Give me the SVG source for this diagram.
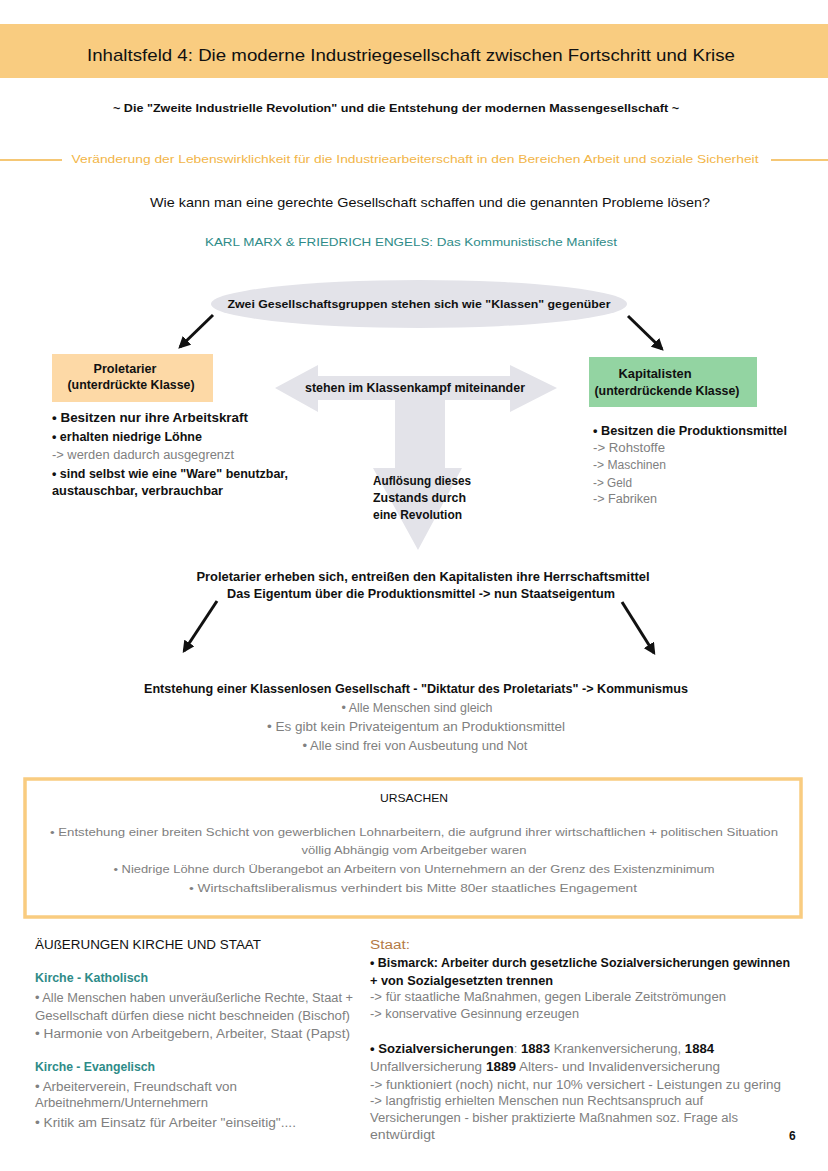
<svg xmlns="http://www.w3.org/2000/svg" width="828" height="1171" viewBox="0 0 828 1171">
<defs>
<marker id="ah" viewBox="0 0 10 10" refX="8" refY="5" markerWidth="4" markerHeight="4" orient="auto" markerUnits="strokeWidth">
<path d="M0,0 L10,5 L0,10 z" fill="#111"/>
</marker>
<style>
text{font-family:"Liberation Sans","DejaVu Sans",sans-serif;fill:#111}
.t{font-size:17px}
.s{font-size:11px;font-weight:bold}
.b{font-size:12px;font-weight:bold}
.g{font-size:12px;fill:#808080}
.gs{font-size:11px;fill:#808080}
.or{font-size:11px;fill:#F2B547}
.teal{font-size:12px;fill:#2E8B88;font-weight:bold}
.c{text-anchor:middle}
.k{fill:#111;font-weight:bold}
.conn{stroke:#111;stroke-width:3;fill:none;marker-end:url(#ah)}
</style>
</defs>
<rect width="828" height="1171" fill="#ffffff"/>

<g id="header">
<rect x="0" y="24" width="828" height="54" fill="#F9CC80"/>
<text class="t c" x="411" y="61" textLength="648" lengthAdjust="spacingAndGlyphs">Inhaltsfeld 4: Die moderne Industriegesellschaft zwischen Fortschritt und Krise</text>
</g>

<g id="subtitle">
<text class="s c" x="396" y="112" textLength="566" lengthAdjust="spacingAndGlyphs">~ Die "Zweite Industrielle Revolution" und die Entstehung der modernen Massengesellschaft ~</text>
</g>

<g id="section-line">
<line x1="0" y1="160" x2="62" y2="160" stroke="#F2B547" stroke-width="1.5"/>
<line x1="771" y1="160" x2="828" y2="160" stroke="#F2B547" stroke-width="1.5"/>
<text class="or c" x="415" y="163" textLength="687" lengthAdjust="spacingAndGlyphs">Veränderung der Lebenswirklichkeit für die Industriearbeiterschaft in den Bereichen Arbeit und soziale Sicherheit</text>
</g>

<g id="question">
<text class="c" x="430" y="207" font-size="13" textLength="560" lengthAdjust="spacingAndGlyphs">Wie kann man eine gerechte Gesellschaft schaffen und die genannten Probleme lösen?</text>
</g>

<g id="manifest">
<text class="c" x="411" y="246" font-size="11" style="fill:#2E8B88" textLength="412" lengthAdjust="spacingAndGlyphs">KARL MARX &amp; FRIEDRICH ENGELS: Das Kommunistische Manifest</text>
</g>

<g id="klassen">
<ellipse cx="419" cy="304" rx="208" ry="24" fill="#E3E3E9"/>
<text class="s c" x="419" y="308" textLength="383" lengthAdjust="spacingAndGlyphs">Zwei Gesellschaftsgruppen stehen sich wie "Klassen" gegenüber</text>
</g>

<g id="proletarier">
<rect x="52" y="354" width="161" height="48" fill="#FDD9A6"/>
<text class="b c" x="125" y="373" textLength="63" lengthAdjust="spacingAndGlyphs">Proletarier</text>
<text class="b c" x="131" y="389" textLength="127" lengthAdjust="spacingAndGlyphs">(unterdrückte Klasse)</text>
</g>

<g id="kapitalisten">
<rect x="589" y="357" width="168" height="50" fill="#93D4A2"/>
<text class="b c" x="655" y="378" textLength="73" lengthAdjust="spacingAndGlyphs">Kapitalisten</text>
<text class="b c" x="667" y="395" textLength="145" lengthAdjust="spacingAndGlyphs">(unterdrückende Klasse)</text>
</g>

<g id="klassenkampf">
<path d="M275,388 L318,365 L318,376 L510,376 L510,365 L557,388 L510,412 L510,400 L445,400 L445,468 L462,468 L418,550 L373,468 L395,468 L395,400 L318,400 L318,412 Z" fill="#E3E3E9"/>
<text class="b c" x="415" y="392" textLength="220" lengthAdjust="spacingAndGlyphs">stehen im Klassenkampf miteinander</text>
<text class="b" x="373" y="485" textLength="98" lengthAdjust="spacingAndGlyphs">Auflösung dieses</text>
<text class="b" x="373" y="502" textLength="93" lengthAdjust="spacingAndGlyphs">Zustands durch</text>
<text class="b" x="373" y="519" textLength="89" lengthAdjust="spacingAndGlyphs">eine Revolution</text>
</g>

<g id="proletarier-list">
<text class="b" x="52" y="422" textLength="196" lengthAdjust="spacingAndGlyphs">• Besitzen nur ihre Arbeitskraft</text>
<text class="b" x="52" y="441" textLength="150" lengthAdjust="spacingAndGlyphs">• erhalten niedrige Löhne</text>
<text class="g" x="52" y="459" textLength="182" lengthAdjust="spacingAndGlyphs">-&gt; werden dadurch ausgegrenzt</text>
<text class="b" x="52" y="478" textLength="236" lengthAdjust="spacingAndGlyphs">• sind selbst wie eine "Ware" benutzbar,</text>
<text class="b" x="52" y="495" textLength="171" lengthAdjust="spacingAndGlyphs">austauschbar, verbrauchbar</text>
</g>

<g id="kapitalisten-list">
<text class="b" x="593" y="435" textLength="194" lengthAdjust="spacingAndGlyphs">• Besitzen die Produktionsmittel</text>
<text class="g" x="593" y="452" textLength="72" lengthAdjust="spacingAndGlyphs">-&gt; Rohstoffe</text>
<text class="g" x="593" y="469" textLength="73" lengthAdjust="spacingAndGlyphs">-&gt; Maschinen</text>
<text class="g" x="593" y="487" textLength="39" lengthAdjust="spacingAndGlyphs">-&gt; Geld</text>
<text class="g" x="593" y="503" textLength="64" lengthAdjust="spacingAndGlyphs">-&gt; Fabriken</text>
</g>

<g id="revolution">
<text class="b c" x="423" y="581" textLength="453" lengthAdjust="spacingAndGlyphs">Proletarier erheben sich, entreißen den Kapitalisten ihre Herrschaftsmittel</text>
<text class="b c" x="421" y="598" textLength="388" lengthAdjust="spacingAndGlyphs">Das Eigentum über die Produktionsmittel -&gt; nun Staatseigentum</text>
</g>

<g id="kommunismus">
<text class="b c" x="416" y="693" textLength="544" lengthAdjust="spacingAndGlyphs">Entstehung einer Klassenlosen Gesellschaft - "Diktatur des Proletariats" -&gt; Kommunismus</text>
<text class="g c" x="417" y="712" textLength="151" lengthAdjust="spacingAndGlyphs">• Alle Menschen sind gleich</text>
<text class="g c" x="416" y="731" textLength="298" lengthAdjust="spacingAndGlyphs">• Es gibt kein Privateigentum an Produktionsmittel</text>
<text class="g c" x="415" y="750" textLength="225" lengthAdjust="spacingAndGlyphs">• Alle sind frei von Ausbeutung und Not</text>
</g>

<g id="connectors">
<line class="conn" x1="213" y1="315" x2="180" y2="347"/>
<line class="conn" x1="628" y1="316" x2="662" y2="349"/>
<line class="conn" x1="217" y1="601" x2="184" y2="651"/>
<line class="conn" x1="622" y1="602" x2="654" y2="653"/>
</g>

<g id="ursachen">
<rect x="25" y="779" width="776" height="138" fill="#ffffff" stroke="#F9CC80" stroke-width="3.5"/>
<text class="c" x="414" y="802" font-size="11" textLength="68" lengthAdjust="spacingAndGlyphs">URSACHEN</text>
<text class="gs c" x="414" y="836" textLength="728" lengthAdjust="spacingAndGlyphs">• Entstehung einer breiten Schicht von gewerblichen Lohnarbeitern, die aufgrund ihrer wirtschaftlichen + politischen Situation</text>
<text class="gs c" x="414" y="854" textLength="225" lengthAdjust="spacingAndGlyphs">völlig Abhängig vom Arbeitgeber waren</text>
<text class="gs c" x="414" y="873" textLength="601" lengthAdjust="spacingAndGlyphs">• Niedrige Löhne durch Überangebot an Arbeitern von Unternehmern an der Grenz des Existenzminimum</text>
<text class="gs c" x="413" y="892" textLength="448" lengthAdjust="spacingAndGlyphs">• Wirtschaftsliberalismus verhindert bis Mitte 80er staatliches Engagement</text>
</g>

<g id="kirche">
<text x="35" y="949" font-size="12" textLength="226" lengthAdjust="spacingAndGlyphs">ÄUßERUNGEN KIRCHE UND STAAT</text>
<text class="teal" x="35" y="982" textLength="113" lengthAdjust="spacingAndGlyphs">Kirche - Katholisch</text>
<text class="g" x="35" y="1002" textLength="318" lengthAdjust="spacingAndGlyphs">• Alle Menschen haben unveräußerliche Rechte, Staat +</text>
<text class="g" x="35" y="1020" textLength="315" lengthAdjust="spacingAndGlyphs">Gesellschaft dürfen diese nicht beschneiden (Bischof)</text>
<text class="g" x="35" y="1038" textLength="315" lengthAdjust="spacingAndGlyphs">• Harmonie von Arbeitgebern, Arbeiter, Staat (Papst)</text>
<text class="teal" x="35" y="1071" textLength="120" lengthAdjust="spacingAndGlyphs">Kirche - Evangelisch</text>
<text class="g" x="35" y="1091" textLength="202" lengthAdjust="spacingAndGlyphs">• Arbeiterverein, Freundschaft von</text>
<text class="g" x="35" y="1107" textLength="173" lengthAdjust="spacingAndGlyphs">Arbeitnehmern/Unternehmern</text>
<text class="g" x="35" y="1127" textLength="261" lengthAdjust="spacingAndGlyphs">• Kritik am Einsatz für Arbeiter "einseitig"....</text>
</g>

<g id="staat">
<text x="370" y="949" font-size="12" style="fill:#B47A45" textLength="40" lengthAdjust="spacingAndGlyphs">Staat:</text>
<text class="b" x="370" y="967" textLength="420" lengthAdjust="spacingAndGlyphs">• Bismarck: Arbeiter durch gesetzliche Sozialversicherungen gewinnen</text>
<text class="b" x="370" y="985" textLength="183" lengthAdjust="spacingAndGlyphs">+ von Sozialgesetzten trennen</text>
<text class="g" x="370" y="1001" textLength="356" lengthAdjust="spacingAndGlyphs">-&gt; für staatliche Maßnahmen, gegen Liberale Zeitströmungen</text>
<text class="g" x="370" y="1018" textLength="209" lengthAdjust="spacingAndGlyphs">-&gt; konservative Gesinnung erzeugen</text>
<text class="g" x="370" y="1053" textLength="344" lengthAdjust="spacingAndGlyphs"><tspan class="k">• Sozialversicherungen</tspan>: <tspan class="k">1883</tspan> Krankenversicherung, <tspan class="k">1884</tspan></text>
<text class="g" x="370" y="1071" textLength="350" lengthAdjust="spacingAndGlyphs">Unfallversicherung  <tspan class="k">1889</tspan> Alters- und Invalidenversicherung</text>
<text class="g" x="370" y="1089" textLength="411" lengthAdjust="spacingAndGlyphs">-&gt; funktioniert (noch) nicht, nur 10% versichert - Leistungen zu gering</text>
<text class="g" x="370" y="1105" textLength="333" lengthAdjust="spacingAndGlyphs">-&gt; langfristig erhielten Menschen nun Rechtsanspruch auf</text>
<text class="g" x="370" y="1122" textLength="368" lengthAdjust="spacingAndGlyphs">Versicherungen - bisher praktizierte Maßnahmen soz. Frage als</text>
<text class="g" x="370" y="1139" textLength="65" lengthAdjust="spacingAndGlyphs">entwürdigt</text>
<text x="789" y="1140" font-size="12" font-weight="bold">6</text>
</g>
</svg>
